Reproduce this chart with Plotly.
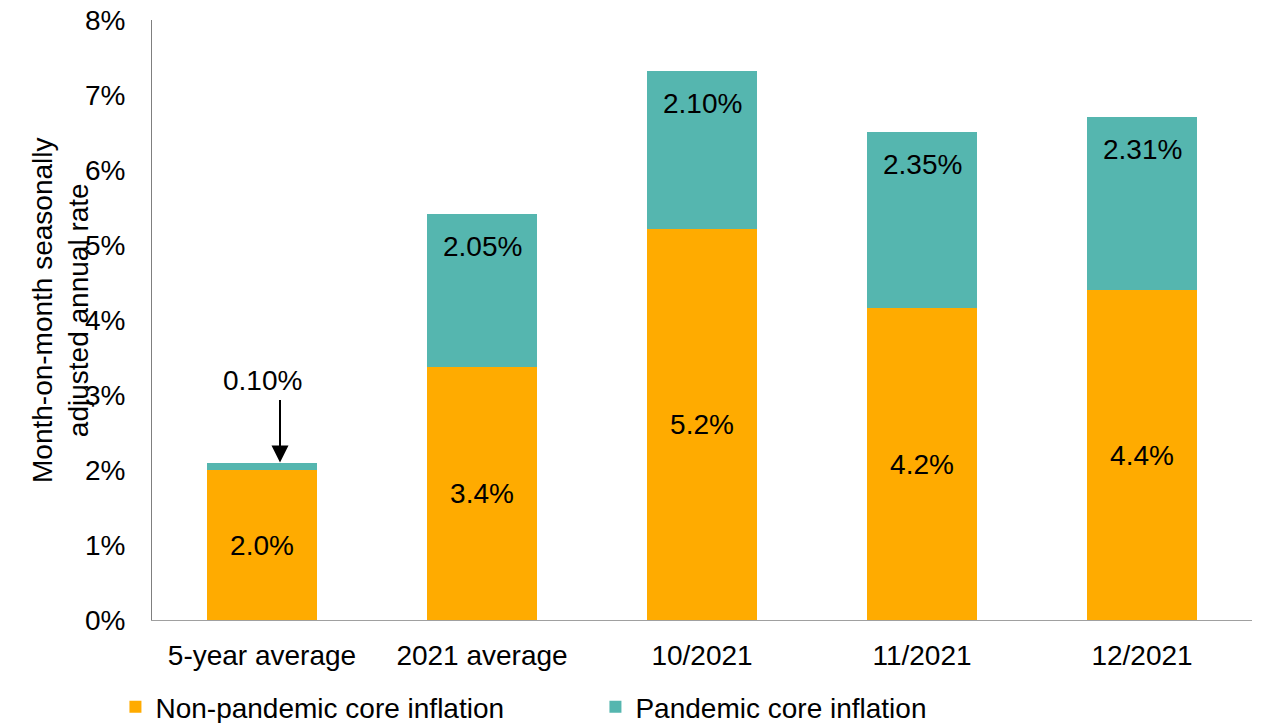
import plotly.graph_objects as go

categories = ['5-year average', '2021 average', '10/2021', '11/2021', '12/2021']
non_pandemic = [2.0, 3.37, 5.22, 4.16, 4.40]
pandemic = [0.10, 2.05, 2.10, 2.35, 2.31]
non_pandemic_labels = ['2.0%', '3.4%', '5.2%', '4.2%', '4.4%']
pandemic_labels = ['0.10%', '2.05%', '2.10%', '2.35%', '2.31%']

orange = '#FFAB00'
teal = '#55B6AF'
font = 'Liberation Sans, Arial, sans-serif'

fig = go.Figure()
fig.add_trace(go.Bar(x=categories, y=non_pandemic, name='Non-pandemic core inflation',
                     marker=dict(color=orange, line=dict(width=0)), text=non_pandemic_labels,
                     textposition='inside', insidetextanchor='middle',
                     textfont=dict(size=28, color='black'), hoverinfo='skip'))
fig.add_trace(go.Bar(x=categories, y=pandemic, name='Pandemic core inflation',
                     marker=dict(color=teal, line=dict(width=0)), hoverinfo='skip'))

totals = [a + b for a, b in zip(non_pandemic, pandemic)]

# teal labels sit near the top of each teal segment
for cat, tot, lab in zip(categories[1:], totals[1:], pandemic_labels[1:]):
    fig.add_annotation(x=cat, y=tot, text=lab, showarrow=False, yanchor='top', yshift=-15,
                       font=dict(size=28, color='black'))

# small slice gets a callout with an arrow
fig.add_annotation(x=categories[0], y=totals[0], text=pandemic_labels[0], showarrow=False,
                   yanchor='middle', yshift=82, font=dict(size=28, color='black'))
fig.add_annotation(x=categories[0], y=totals[0], text='', showarrow=True, ax=0, ay=-64,
                   xshift=18, arrowhead=2, arrowsize=1.7, arrowwidth=2, arrowcolor='black',
                   standoff=0)

# y title as a rotated annotation so it can overlap the tick area like the original
fig.add_annotation(xref='paper', yref='paper', x=0, y=0.5, xshift=-92, yshift=10,
                   text='Month-on-month seasonally<br>adjusted annual rate', textangle=-90,
                   showarrow=False, xanchor='center', yanchor='middle',
                   font=dict(size=28, color='black'))

# page body has an 8px margin, so margins are trimmed by 8 on the top/left
fig.update_layout(
    barmode='stack', bargap=0.5,
    width=1264, height=723,
    margin=dict(l=144, r=20, t=12, b=111, autoexpand=False),
    paper_bgcolor='white', plot_bgcolor='white',
    font=dict(family=font, size=28, color='black'),
    showlegend=True,
    legend=dict(orientation='h', x=0.085, xref='container', y=0.033, yref='container',
                yanchor='middle', xanchor='left', font=dict(size=28), entrywidth=435,
                traceorder='normal'),
)
fig.update_yaxes(range=[0, 8], dtick=1, ticksuffix='%', showgrid=False, showline=True,
                 linecolor='#7f7f7f', linewidth=1, ticks='', tickfont=dict(size=28),
                 ticklabelstandoff=20, ticklabeloverflow='allow', automargin=False,
                 zeroline=False)
fig.update_xaxes(showline=True, linecolor='#a0a0a0', linewidth=1, ticks='',
                 tickfont=dict(size=28), ticklabelstandoff=10, automargin=False)

fig.write_html('out.html')
